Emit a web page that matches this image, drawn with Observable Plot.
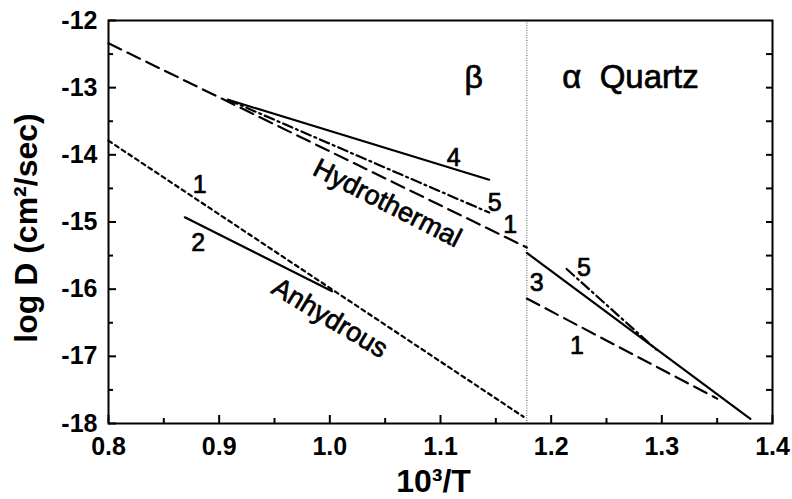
<!DOCTYPE html>
<html>
<head>
<meta charset="utf-8">
<script src="https://cdn.jsdelivr.net/npm/d3@7"></script>
<script src="https://cdn.jsdelivr.net/npm/@observablehq/plot@0.6"></script>
<style>
  body { margin: 0; background: #fff; }
  svg { font-family: "Liberation Sans", Arial, Helvetica, sans-serif; }
</style>
</head>
<body>
<div id="chart"></div>
<script>
// Axes: reciprocal temperature (10^3/T) against log of the diffusion coefficient
const xDomain = [0.8, 1.4];
const yDomain = [-18, -12];
const xMajorTicks = [0.8, 0.9, 1.0, 1.1, 1.2, 1.3, 1.4];
const xMinorTicks = [0.85, 0.95, 1.05, 1.15, 1.25, 1.35];
const yMajorTicks = [-18, -17, -16, -15, -14, -13, -12];
const yMinorTicks = [-17.5, -16.5, -15.5, -14.5, -13.5, -12.5];
const yRightTicks = [-17.5, -17, -16.5, -16, -15.5, -15, -14.5, -14, -13.5, -13, -12.5];

// alpha/beta quartz transition
const transitionX = [1.178];

// Arrhenius lines, each given by its end points (10^3/T, log D)
const hydro1BetaX = [0.800, 1.178];
const hydro1BetaY = [-12.34, -15.38];
const hydro4BetaX = [0.908, 1.144];
const hydro4BetaY = [-13.18, -14.37];
const hydro5BetaX = [0.908, 1.144];
const hydro5BetaY = [-13.18, -14.86];
const anhyd1X = [0.800, 1.175];
const anhyd1Y = [-13.79, -17.90];
const anhyd2X = [0.869, 1.002];
const anhyd2Y = [-14.93, -16.03];
const alpha3X = [1.178, 1.380];
const alpha3Y = [-15.46, -17.93];
const alpha1X = [1.178, 1.350];
const alpha1Y = [-16.14, -17.63];
const alpha5X = [1.214, 1.295];
const alpha5Y = [-15.70, -16.90];

// Curve annotations
const labelText   = ["β", "α  Quartz", "4", "5", "1", "Hydrothermal", "1", "2", "Anhydrous", "3", "5", "1"];
const labelX      = [1.130, 1.210, 1.112, 1.149, 1.163, 1.052, 0.8825, 0.881, 1.000, 1.187, 1.2297, 1.2234];
const labelY      = [-12.85, -12.85, -14.04, -14.71, -15.05, -14.72, -14.455, -15.32, -16.43, -15.91, -15.69, -16.84];
const labelAngle  = [0, 0, 0, 0, 0, 27, 0, 0, 31, 0, 0, 0];
const labelSize   = [32, 33, 25, 25, 25, 27, 25, 25, 27, 25, 25, 25];
const labelAnchor = ["middle", "start", "middle", "middle", "middle", "middle", "middle", "middle", "middle", "middle", "middle", "middle"];

const yTitle = "log D (cm²/sec)";
const xTitle = "10³/T";

const xTickFormat = d => d.toFixed(1);
const yTickFormat = d => String(d);

const pts = (xs, ys) => xs.map((x, i) => ({x, y: ys[i]}));
const dashed = "14,7";
const dashDot = "10,4,2,4";
const dotted = "4,4";

const curve = (xs, ys, dash) =>
  Plot.line(pts(xs, ys), {x: "x", y: "y", stroke: "#000", strokeWidth: 2.2, strokeDasharray: dash});

const labels = labelText.map((t, i) => ({
  text: t, x: labelX[i], y: labelY[i], rotate: labelAngle[i], size: labelSize[i], anchor: labelAnchor[i]
}));

const chart = Plot.plot({
  width: 792,
  height: 499,
  marginLeft: 108,
  marginRight: 20,
  marginTop: 20,
  marginBottom: 76,
  x: {domain: xDomain, label: null},
  y: {domain: yDomain, label: null},
  marks: [
    Plot.ruleX(transitionX, {stroke: "#555", strokeWidth: 1, strokeDasharray: "1,1.5"}),
    // beta quartz, hydrothermal
    curve(hydro1BetaX, hydro1BetaY, dashed),
    curve(hydro4BetaX, hydro4BetaY, null),
    curve(hydro5BetaX, hydro5BetaY, dashDot),
    // beta quartz, anhydrous
    curve(anhyd1X, anhyd1Y, dotted),
    curve(anhyd2X, anhyd2Y, null),
    // alpha quartz
    curve(alpha3X, alpha3Y, null),
    curve(alpha1X, alpha1Y, dashed),
    curve(alpha5X, alpha5Y, dashDot),
    // annotations
    Plot.text(labels.filter(d => d.anchor === "middle"), {
      x: "x", y: "y", text: "text", rotate: "rotate", fontSize: "size",
      fill: "#000", stroke: "#000", strokeWidth: 0.7, textAnchor: "middle"
    }),
    Plot.text(labels.filter(d => d.anchor === "start"), {
      x: "x", y: "y", text: "text", fontSize: "size",
      fill: "#000", stroke: "#000", strokeWidth: 0.7, textAnchor: "start"
    }),
    // axes: inward ticks on bottom, left and right
    Plot.axisX(xMajorTicks, {anchor: "bottom", tickSize: -8, tickPadding: 22, strokeWidth: 2,
      tickFormat: xTickFormat, fontSize: 25, label: null}),
    Plot.axisX(xMinorTicks, {anchor: "bottom", tickSize: -5, strokeWidth: 2, tickFormat: () => "", label: null}),
    Plot.axisY(yMajorTicks, {anchor: "left", tickSize: -8, tickPadding: 19, strokeWidth: 2,
      tickFormat: yTickFormat, fontSize: 25, label: null}),
    Plot.axisY(yMinorTicks, {anchor: "left", tickSize: -5, strokeWidth: 2, tickFormat: () => "", label: null}),
    Plot.axisY(yRightTicks, {anchor: "right", tickSize: -7, strokeWidth: 2, tickFormat: () => "", label: null}),
    Plot.frame({stroke: "#000", strokeWidth: 2}),
    // axis titles
    Plot.text([yTitle], {frameAnchor: "left", dx: -82, dy: 6, rotate: -90, fontSize: 32,
      textAnchor: "middle", lineAnchor: "middle", fontWeight: "bold", fill: "#000"}),
    Plot.text([xTitle], {frameAnchor: "bottom", dx: -7, dy: 58, fontSize: 32,
      textAnchor: "middle", lineAnchor: "middle", fontWeight: "bold", fill: "#000"})
  ]
});

// bold tick numerals, same weight as the axis titles
const tickStrings = new Set([...xMajorTicks.map(xTickFormat), ...yMajorTicks.map(yTickFormat)]);
chart.querySelectorAll("text").forEach(t => {
  if (tickStrings.has(t.textContent.trim())) {
    t.setAttribute("font-weight", "bold");
    t.style.fontWeight = "bold";
  }
});

document.getElementById("chart").append(chart);
</script>
</body>
</html>
